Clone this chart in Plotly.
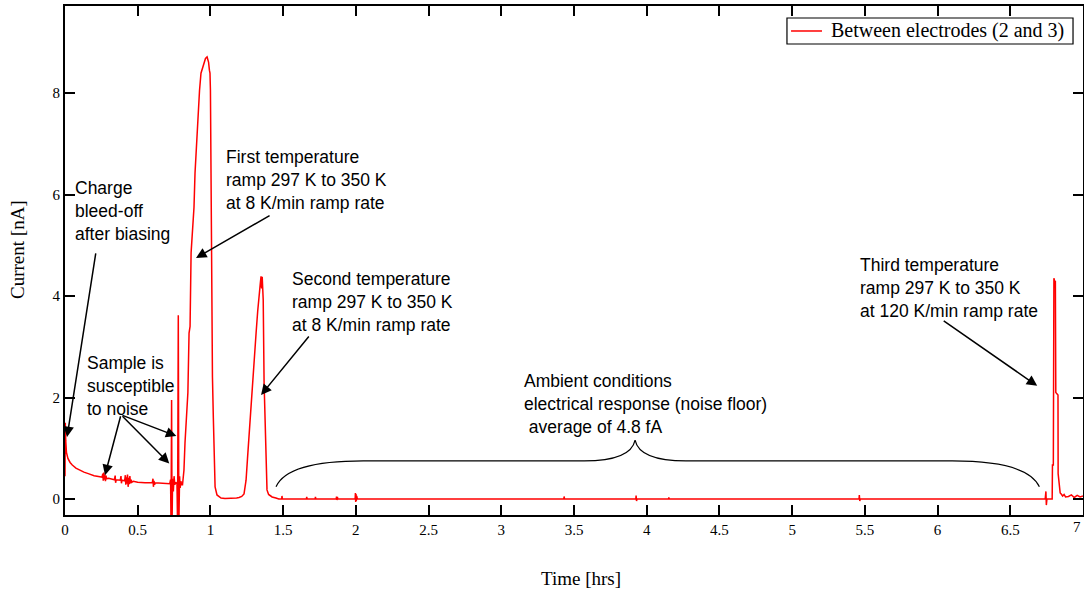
import plotly.graph_objects as go

# ---- data (hours, nA) ----
bleed_t = [0.000, 0.002, 0.005, 0.010, 0.020, 0.035, 0.050, 0.075, 0.100, 0.130, 0.160, 0.200, 0.240, 0.255,
           0.260, 0.263, 0.267, 0.270, 0.274, 0.278, 0.282, 0.286, 0.300, 0.320, 0.340, 0.345, 0.348, 0.352,
           0.380, 0.385, 0.388, 0.392, 0.410, 0.415, 0.418, 0.422, 0.425, 0.430, 0.434, 0.438, 0.442, 0.446,
           0.450, 0.455, 0.460, 0.470, 0.480, 0.500, 0.550, 0.600, 0.605, 0.608, 0.612, 0.616, 0.620, 0.680,
           0.700, 0.720, 0.726, 0.729, 0.733, 0.736, 0.740, 0.745, 0.750, 0.755, 0.762, 0.770, 0.774, 0.779,
           0.783, 0.788, 0.792, 0.797, 0.802]
bleed_i = [0.45, 1.50, 1.15, 0.92, 0.80, 0.72, 0.67, 0.61, 0.57, 0.53, 0.50, 0.46, 0.44, 0.43,
           0.50, 0.36, 0.52, 0.38, 0.48, 0.35, 0.46, 0.40, 0.41, 0.39, 0.38, 0.46, 0.32, 0.38,
           0.37, 0.45, 0.31, 0.37, 0.36, 0.47, 0.28, 0.43, 0.30, 0.48, 0.24, 0.42, 0.29, 0.45,
           0.31, 0.38, 0.33, 0.35, 0.34, 0.33, 0.32, 0.32, 0.40, 0.24, 0.36, 0.28, 0.32, 0.31,
           0.30, 0.30, 0.38, -0.50, 1.95, -0.50, 0.40, 0.15, 0.45, 0.28, 0.33, 0.30, -0.50, 3.62,
           -0.50, 0.45, 0.22, 0.35, 0.28]

ramp12_t = [0.808, 0.818, 0.825, 0.839, 0.845, 0.853, 0.860, 0.867, 0.874, 0.880, 0.887, 0.894, 0.905,
            0.915, 0.925, 0.935, 0.946, 0.956, 0.966, 0.977, 0.982, 0.987, 0.993, 0.997, 1.000, 1.004,
            1.011, 1.014, 1.020, 1.025, 1.032, 1.045, 1.060, 1.073, 1.100, 1.140, 1.180, 1.197, 1.215,
            1.231, 1.245, 1.255, 1.265, 1.276, 1.286, 1.300, 1.314, 1.325, 1.334, 1.343, 1.348, 1.352,
            1.356, 1.360, 1.363, 1.369, 1.376, 1.382, 1.389, 1.400, 1.424, 1.450, 1.470]
ramp12_i = [0.28, 0.57, 1.10, 1.95, 2.10, 3.27, 3.40, 4.85, 5.10, 5.50, 5.75, 6.42, 7.00,
            7.72, 8.05, 8.39, 8.50, 8.61, 8.68, 8.71, 8.65, 8.61, 8.45, 8.39, 8.06, 5.89,
            3.92, 2.40, 1.60, 0.77, 0.24, 0.08, 0.05, 0.02, 0.01, 0.01, 0.02, 0.03, 0.05,
            0.10, 0.37, 0.80, 1.22, 1.80, 2.29, 2.80, 3.27, 3.70, 4.07, 4.25, 4.39, 4.15,
            4.38, 4.10, 3.92, 2.29, 1.60, 0.97, 0.18, 0.09, 0.04, 0.02, 0.00]

floor_t = [1.490, 1.492, 1.495, 1.660, 1.662, 1.665, 1.720, 1.722, 1.725, 1.865, 1.867, 1.870, 1.873,
           1.876, 1.995, 1.997, 1.999, 2.001, 2.003, 2.006, 2.010, 2.500, 3.430, 3.432, 3.435, 3.925,
           3.927, 3.930, 3.933, 4.150, 4.152, 4.155, 5.460, 5.462, 5.465, 5.468, 6.740]
floor_i = [0.00, 0.06, 0.00, 0.00, 0.04, 0.00, 0.00, 0.04, 0.00, 0.00, 0.05, -0.02, 0.04,
           0.00, 0.00, 0.12, -0.06, 0.10, -0.04, 0.06, 0.00, 0.00, 0.00, 0.05, 0.00, 0.00,
           0.07, -0.04, 0.00, 0.00, 0.03, 0.00, 0.00, 0.08, -0.04, 0.00, 0.00]

ramp3_t = [6.745, 6.748, 6.752, 6.788, 6.790, 6.796, 6.797, 6.800, 6.806, 6.810, 6.813, 6.828, 6.829,
           6.835, 6.843, 6.850, 6.860, 6.870, 6.880, 6.900, 6.920, 6.940, 6.960, 6.980, 7.000]
ramp3_i = [0.15, -0.12, 0.00, 0.00, 0.67, 0.67, 4.20, 4.35, 4.28, 4.30, 2.10, 2.05, 0.50,
           0.30, 0.12, 0.10, 0.06, 0.09, 0.04, 0.05, 0.08, 0.03, 0.07, 0.04, 0.06]

time_hrs = bleed_t + ramp12_t + floor_t + ramp3_t
current_nA = bleed_i + ramp12_i + floor_i + ramp3_i

series_name = "Between electrodes (2 and 3)"
x_ticks = [0, 0.5, 1, 1.5, 2, 2.5, 3, 3.5, 4, 4.5, 5, 5.5, 6, 6.5, 7]
x_tick_text = ["0", "0.5", "1", "1.5", "2", "2.5", "3", "3.5", "4", "4.5", "5", "5.5", "6", "6.5", "7"]
y_ticks = [0, 2, 4, 6, 8]

# annotation texts and anchors (data units)
notes = [
    ("Charge<br>bleed-off<br>after biasing", 0.055, 6.36),
    ("Sample is<br>susceptible<br>to noise", 0.137, 2.92),
    ("First temperature<br>ramp 297 K to 350 K<br>at 8 K/min ramp rate", 1.093, 6.98),
    ("Second temperature<br>ramp 297 K to 350 K<br>at 8 K/min ramp rate", 1.547, 4.57),
    ("Ambient conditions<br>electrical response (noise floor)<br>&nbsp;average of 4.8 fA", 3.143, 2.56),
    ("Third temperature<br>ramp 297 K to 350 K<br>at 120 K/min ramp rate", 5.454, 4.85),
]
# arrows: (tail_x, tail_y, tip_x, tip_y)
arrows = [
    (0.213, 4.87, 0.014, 1.22),
    (0.385, 1.66, 0.275, 0.47),
    (0.385, 1.66, 0.766, 1.24),
    (0.385, 1.66, 0.717, 0.70),
    (1.417, 5.60, 0.901, 4.75),
    (1.685, 3.23, 1.348, 2.05),
    (6.032, 3.53, 6.685, 2.23),
]
# curly brace over the noise floor
brace_left, brace_right, brace_mid = 1.451, 6.700, 3.920
brace_end_y, brace_level_y, brace_tip_y = 0.24, 0.75, 1.16

line_color = "#ff0000"
fig = go.Figure()
fig.add_trace(go.Scatter(
    x=time_hrs, y=current_nA, mode="lines",
    line=dict(color=line_color, width=1.5),
    name=series_name, showlegend=False,
))

sans = "Liberation Sans, Arial, sans-serif"
serif = "Liberation Serif, Times New Roman, serif"

annotations = []
for text, ax_, ay_ in notes:
    annotations.append(dict(
        text=text, x=ax_, y=ay_, xref="x", yref="y", xanchor="left", yanchor="top",
        align="left", showarrow=False, font=dict(family=sans, size=17.5, color="black"),
    ))
for tx, ty, hx, hy in arrows:
    annotations.append(dict(
        text="", x=hx, y=hy, ax=tx, ay=ty, xref="x", yref="y", axref="x", ayref="y",
        showarrow=True, arrowhead=2, arrowsize=1.4, arrowwidth=1.5, arrowcolor="black", standoff=0,
    ))
# axis titles and the last tick label at the right edge
annotations.append(dict(text="Time [hrs]", x=0.507, y=-0.124, xref="paper", yref="paper",
                        xanchor="center", yanchor="middle", showarrow=False,
                        font=dict(family=serif, size=19, color="black")))
annotations.append(dict(text="Current [nA]", x=-0.046, y=0.521, xref="paper", yref="paper",
                        xanchor="center", yanchor="middle", showarrow=False, textangle=-90,
                        font=dict(family=serif, size=19, color="black")))
annotations.append(dict(text=x_tick_text[-1], x=x_ticks[-1], y=-0.024, xref="x", yref="paper",
                        xanchor="right", yanchor="middle", showarrow=False,
                        font=dict(family=serif, size=15, color="black")))
# legend box (drawn by hand to match the reference's compact box)
annotations.append(dict(text=series_name, x=0.7505, y=0.9509, xref="paper", yref="paper",
                        xanchor="left", yanchor="middle", showarrow=False,
                        font=dict(family=serif, size=20, color="black")))

bl, br, bm = brace_left, brace_right, brace_mid
e, lv, tp = brace_end_y, brace_level_y, brace_tip_y
path = (f"M {bl},{e} Q {bl + 0.08},{lv} {bl + 0.6},{lv} L {bm - 0.35},{lv} "
        f"Q {bm - 0.03},{lv} {bm},{tp} Q {bm + 0.03},{lv} {bm + 0.35},{lv} "
        f"L {br - 0.6},{lv} Q {br - 0.08},{lv} {br},{e}")

shapes = [
    dict(type="path", path=path, xref="x", yref="y", line=dict(color="black", width=1.2)),
    dict(type="rect", xref="paper", yref="paper", x0=0.7092, x1=0.9902, y0=0.9253, y1=0.9764,
         line=dict(color="black", width=1.2), fillcolor="white", layer="above"),
    dict(type="line", xref="paper", yref="paper", x0=0.7132, x1=0.7436, y0=0.9509, y1=0.9509,
         line=dict(color=line_color, width=1.5), layer="above"),
]

fig.update_layout(
    width=1084, height=590,
    margin=dict(l=65, r=1, t=6, b=75, autoexpand=False),
    plot_bgcolor="white", paper_bgcolor="white",
    showlegend=False,
    annotations=annotations,
    shapes=shapes,
    xaxis=dict(range=[0, 7], tickvals=x_ticks[:-1], ticktext=x_tick_text[:-1],
               ticks="inside", ticklen=10, tickwidth=1.5, tickcolor="black",
               showline=True, linecolor="black", linewidth=2, mirror="ticks",
               showgrid=False, zeroline=False, automargin=False,
               tickfont=dict(family=serif, size=15, color="black")),
    yaxis=dict(range=[-0.315, 9.714], tickvals=y_ticks,
               ticks="inside", ticklen=10, tickwidth=1.5, tickcolor="black",
               showline=True, linecolor="black", linewidth=2, mirror="ticks",
               showgrid=False, zeroline=False, automargin=False,
               tickfont=dict(family=serif, size=15, color="black")),
)

fig.write_html("out.html", config={"displayModeBar": False},
               post_script="document.body.style.margin='0px';document.body.style.overflow='hidden';")
